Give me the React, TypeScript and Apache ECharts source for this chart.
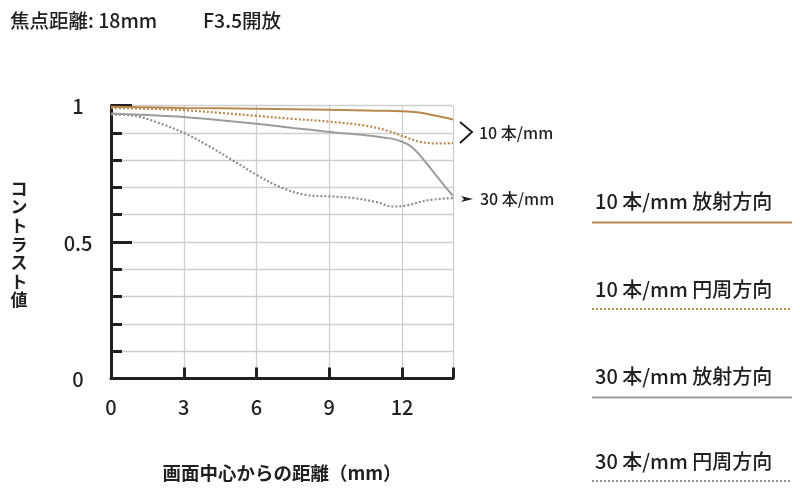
import { useEffect, useRef } from "react";
import * as echarts from "echarts";

const INK = "#231f20";
const GRID = "#cfcfcf";
const BROWN = "#b8894f";
const GRAY = "#9c9c9c";
const GRAY_DOT = "#8e8e8e";
const FONT = "'Noto Sans CJK JP', 'Noto Sans', sans-serif";

const TITLE_LEFT = "焦点距離: 18mm";
const TITLE_RIGHT = "F3.5開放";
const Y_NAME = "コントラスト値";
const X_NAME = "画面中心からの距離（mm）";
const X_MAX = 14.1;
const X_LABELS = [0, 3, 6, 9, 12];
const Y_LABELS = [0, 0.5, 1];

const SERIES_NAMES = ["10 本/mm 放射方向", "10 本/mm 円周方向", "30 本/mm 放射方向", "30 本/mm 円周方向"];

// 10本/mm 放射方向（実線・茶）
const s10: [number, number][] = [
  [0, 0.995], [3, 0.991], [6, 0.988], [9, 0.984], [11, 0.981], [12, 0.979],
  [12.7, 0.974], [13.3, 0.964], [14.1, 0.949],
];
// 10本/mm 円周方向（点線・茶）
const m10: [number, number][] = [
  [0, 0.991], [1.5, 0.988], [3, 0.983], [4.5, 0.973], [6, 0.962], [7.5, 0.951],
  [9, 0.941], [10.5, 0.926], [11.5, 0.905], [12.2, 0.882], [12.8, 0.866],
  [13.5, 0.861], [14.1, 0.862],
];
// 30本/mm 放射方向（実線・灰）
const s30: [number, number][] = [
  [0, 0.971], [1.5, 0.965], [3, 0.958], [4.5, 0.946], [6, 0.933], [7.5, 0.918],
  [9, 0.903], [10.5, 0.891], [11.3, 0.882], [11.9, 0.871], [12.4, 0.848],
  [12.9, 0.8], [13.4, 0.745], [13.8, 0.7], [14.1, 0.669],
];
// 30本/mm 円周方向（点線・灰）
const m30: [number, number][] = [
  [0, 0.967], [1, 0.962], [2, 0.935], [3, 0.9], [4, 0.853], [5, 0.8], [6, 0.746],
  [7, 0.7], [8, 0.673], [9, 0.667], [10, 0.661], [11, 0.645], [11.6, 0.63],
  [12.2, 0.634], [13, 0.652], [14.1, 0.661],
];

const SERIES_DATA = [s10, m10, s30, m30];
const SERIES_COLORS = [BROWN, BROWN, GRAY, GRAY_DOT];
const SERIES_DOTTED = [false, true, false, true];

export default function App() {
  const elRef = useRef<HTMLDivElement>(null);

  useEffect(() => {
    const el = elRef.current;
    if (!el) return;
    const chart = echarts.init(el, undefined, { renderer: "svg" });

    const dash = [2, 2];

    // 右側の凡例（文字の下に線）
    const legendTop = [200, 288, 375, 460];
    const legendGraphics = SERIES_NAMES.flatMap((name, i) => [
      {
        type: "text",
        x: 595,
        y: legendTop[i],
        style: { text: name, fill: INK, font: `500 20px ${FONT}`, textVerticalAlign: "middle" },
      },
      {
        type: "line",
        shape: { x1: 592, y1: legendTop[i] + (SERIES_DOTTED[i] ? 21 : 22.5), x2: 792, y2: legendTop[i] + (SERIES_DOTTED[i] ? 21 : 22.5) },
        style: {
          stroke: SERIES_COLORS[i],
          lineWidth: 2.2,
          lineDash: SERIES_DOTTED[i] ? dash : null,
        },
      },
    ]);

    chart.setOption({
      animation: false,
      grid: { left: 111, right: 347, top: 105.5, bottom: 115.5 },
      xAxis: {
        type: "value",
        min: 0,
        max: X_MAX,
        interval: 3,
        name: X_NAME,
        nameLocation: "middle",
        nameGap: 84,
        nameTextStyle: { color: INK, fontFamily: FONT, fontSize: 18.5, fontWeight: "bold" },
        axisLine: { lineStyle: { color: INK, width: 3 } },
        axisTick: { inside: true, length: 11, lineStyle: { color: INK, width: 3 } },
        axisLabel: {
          color: INK,
          fontFamily: FONT,
          fontSize: 20,
          fontWeight: 500,
          margin: 18,
          formatter: (v: number) => (X_LABELS.includes(v) ? String(v) : ""),
        },
        splitLine: { show: true, lineStyle: { color: GRID, width: 1.3 } },
      },
      yAxis: [
        {
          type: "value",
          min: 0,
          max: 1,
          interval: 0.1,
          axisLine: { lineStyle: { color: INK, width: 3 } },
          axisTick: { inside: true, length: 11, lineStyle: { color: INK, width: 3 } },
          axisLabel: { show: false },
          splitLine: { show: true, lineStyle: { color: GRID, width: 1.3 } },
        },
        {
          type: "value",
          position: "left",
          min: 0,
          max: 1,
          interval: 0.5,
          axisLine: { show: false },
          axisTick: { inside: true, length: 21, lineStyle: { color: INK, width: 3 } },
          axisLabel: {
            color: INK,
            fontFamily: FONT,
            fontSize: 20,
            fontWeight: 500,
            align: "center",
            margin: 33,
            formatter: (v: number) => (Y_LABELS.includes(v) ? String(v) : ""),
          },
          splitLine: { show: false },
        },
      ],
      series: SERIES_DATA.map((data, i) => ({
        name: SERIES_NAMES[i],
        type: "line",
        yAxisIndex: 0,
        data,
        smooth: 0.35,
        showSymbol: false,
        z: 10 - i,
        lineStyle: {
          color: SERIES_COLORS[i],
          width: SERIES_DOTTED[i] ? 2.2 : 2,
          type: SERIES_DOTTED[i] ? dash : "solid",
        },
      })),
      graphic: [
        { type: "text", x: 10, y: 19, style: { text: TITLE_LEFT, fill: INK, font: `500 19.5px ${FONT}`, textVerticalAlign: "middle" } },
        { type: "text", x: 203, y: 19, style: { text: TITLE_RIGHT, fill: INK, font: `500 19.5px ${FONT}`, textVerticalAlign: "middle" } },
        {
          type: "text",
          x: 19,
          y: 178,
          style: {
            text: Y_NAME.split("").join("\n"),
            fill: INK,
            font: `bold 17px ${FONT}`,
            lineHeight: 18.6,
            textAlign: "center",
          },
        },
        { type: "polyline", shape: { points: [[460, 122], [472, 132], [460, 143]] }, style: { stroke: INK, lineWidth: 2, fill: null } },
        { type: "text", x: 479, y: 132, style: { text: "10 本/mm", fill: INK, font: `500 16px ${FONT}`, textVerticalAlign: "middle" } },
        { type: "polygon", shape: { points: [[461, 196], [473, 199], [461, 202], [464, 199]] }, style: { fill: INK } },
        { type: "text", x: 480, y: 198, style: { text: "30 本/mm", fill: INK, font: `500 16px ${FONT}`, textVerticalAlign: "middle" } },
        ...legendGraphics,
      ],
    });

    return () => chart.dispose();
  }, []);

  return <div ref={elRef} style={{ position: "fixed", left: 0, top: 0, width: 800, height: 494 }} />;
}
